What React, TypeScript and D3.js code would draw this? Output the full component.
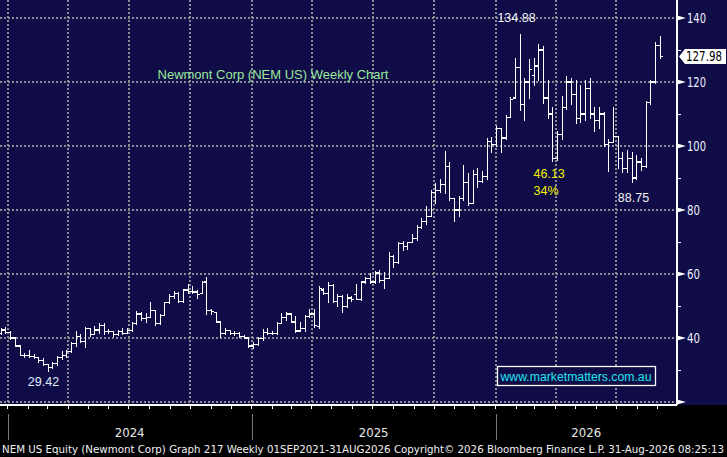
import React from "react";
import * as d3 from "d3";

// weekly OHLC, NEM US, weeks ending Fri 22-Dec-2023 .. Fri 04-Sep-2026
const barOpen = [
  41.5, 42.5, 41.8, 40.0, 37.5, 34.6, 34.5, 34.3, 33.8, 33.0,
  31.6, 30.8, 32.0, 33.8, 34.5, 35.8, 38.2, 40.5, 38.8, 43.0,
  41.0, 42.5, 44.0, 42.0, 42.0, 41.0, 42.0, 41.5, 42.3, 44.5,
  47.5, 46.0, 46.5, 48.5, 44.5, 47.0, 51.0, 53.0, 54.0, 51.5,
  55.0, 54.6, 54.4, 54.0, 57.5, 48.5, 48.0, 45.0, 41.5, 42.4,
  41.4, 41.5, 40.5, 40.0, 37.5, 38.0, 39.8, 41.8, 41.5, 41.3,
  44.5, 46.3, 47.5, 45.0, 42.2, 43.0, 46.8, 47.5, 43.5, 55.0,
  54.0, 56.5, 51.5, 53.0, 49.8, 52.5, 53.5, 52.0, 57.5, 58.5,
  57.5, 60.3, 58.0, 58.6, 65.5, 63.5, 69.5, 68.5, 69.8, 71.0,
  74.5, 76.5, 78.0, 85.5, 86.0, 88.0, 93.5, 83.5, 80.0, 83.5,
  88.5, 82.0, 91.0, 89.0, 90.5, 101.5, 100.5, 105.5, 102.5, 109.0,
  115.0, 124.5, 113.0, 120.0, 122.0, 125.0, 130.0, 115.0, 110.0, 96.0,
  103.5, 112.0, 120.0, 116.0, 108.5, 110.0, 118.0, 110.0, 108.0, 110.0,
  100.5, 101.0, 103.0, 96.0, 93.0, 96.0, 90.0, 95.0, 93.5, 113.5,
  120.0, 131.5,
];
const barHigh = [
  43.0, 43.3, 42.0, 40.3, 37.6, 35.2, 36.2, 34.8, 34.0, 33.5,
  31.8, 32.5, 34.3, 35.7, 36.2, 38.6, 42.0, 41.0, 43.4, 43.0,
  43.5, 44.6, 44.6, 42.6, 42.0, 42.5, 43.0, 43.0, 44.7, 48.2,
  48.0, 47.8, 51.0, 48.6, 47.5, 51.2, 53.5, 54.5, 54.2, 55.2,
  56.6, 56.0, 55.0, 57.6, 58.9, 49.0, 48.0, 45.0, 43.0, 42.5,
  42.0, 41.7, 40.8, 40.2, 38.5, 40.2, 42.6, 43.0, 42.0, 44.7,
  47.8, 48.0, 47.6, 46.6, 44.7, 47.0, 48.8, 49.0, 56.0, 55.5,
  57.2, 56.8, 53.6, 53.2, 53.6, 53.0, 56.6, 57.8, 59.0, 60.3,
  60.8, 61.0, 60.6, 66.6, 65.8, 70.0, 70.2, 70.0, 72.2, 75.3,
  77.2, 81.0, 86.0, 88.2, 89.5, 98.4, 95.0, 83.5, 84.3, 94.0,
  91.5, 92.5, 93.0, 92.0, 102.5, 102.8, 106.0, 105.6, 109.5, 115.3,
  127.5, 134.88, 121.0, 127.0, 127.5, 131.8, 131.0, 120.6, 112.0, 104.5,
  115.4, 121.6, 121.0, 120.6, 119.0, 120.5, 121.0, 112.0, 112.0, 110.5,
  102.0, 112.0, 103.0, 98.0, 98.7, 98.0, 97.0, 96.0, 114.0, 120.5,
  132.5, 134.3,
];
const barLow = [
  41.2, 41.5, 39.6, 37.2, 34.4, 34.0, 34.0, 33.6, 32.5, 31.4,
  29.42, 30.4, 31.5, 33.4, 33.8, 35.6, 37.5, 38.5, 36.9, 40.6,
  41.0, 41.5, 41.0, 41.5, 40.5, 40.8, 41.0, 41.3, 42.0, 44.3,
  45.5, 44.8, 46.5, 44.0, 44.2, 47.0, 50.8, 52.5, 51.0, 51.0,
  54.0, 54.0, 52.5, 53.8, 47.2, 47.5, 44.7, 40.3, 41.2, 41.0,
  40.8, 40.2, 39.8, 37.0, 36.8, 37.6, 39.3, 41.0, 41.0, 41.2,
  44.5, 45.5, 44.8, 41.6, 42.0, 42.0, 46.5, 43.4, 43.0, 53.5,
  51.0, 51.0, 50.0, 48.0, 49.5, 51.5, 51.9, 51.8, 57.0, 57.0,
  57.0, 57.5, 55.6, 58.5, 62.0, 63.3, 67.5, 67.8, 69.8, 70.6,
  74.3, 75.5, 78.0, 82.0, 85.6, 85.3, 83.0, 76.5, 78.0, 83.0,
  81.5, 82.0, 87.0, 88.5, 89.4, 98.0, 100.0, 98.0, 102.0, 108.8,
  114.8, 111.0, 108.0, 115.0, 119.0, 120.6, 113.4, 108.7, 95.3, 95.6,
  102.0, 111.5, 113.0, 107.0, 107.5, 108.0, 108.7, 104.4, 105.5, 99.7,
  92.0, 101.0, 93.0, 91.6, 91.6, 88.75, 89.5, 92.5, 93.2, 113.0,
  119.5, 127.5,
];
const barClose = [
  42.5, 41.8, 40.0, 37.5, 34.6, 34.5, 34.3, 33.8, 33.0, 31.6,
  30.8, 32.0, 33.8, 34.5, 35.8, 38.2, 40.5, 39.0, 43.0, 41.0,
  42.5, 44.0, 42.0, 42.0, 41.0, 42.0, 41.5, 42.3, 44.5, 47.5,
  46.0, 46.5, 48.5, 44.5, 47.0, 51.0, 53.0, 54.0, 51.5, 55.0,
  54.6, 54.4, 53.5, 57.3, 48.5, 48.2, 45.0, 41.5, 42.4, 41.4,
  41.5, 40.5, 40.0, 37.5, 38.0, 39.8, 41.8, 41.5, 41.3, 44.5,
  46.3, 47.5, 45.0, 42.2, 43.0, 46.8, 47.5, 44.0, 55.5, 54.0,
  56.5, 51.5, 53.0, 49.8, 52.5, 52.0, 52.0, 57.5, 58.5, 57.5,
  60.3, 58.0, 58.6, 65.5, 63.5, 69.5, 68.5, 69.8, 71.0, 74.5,
  76.5, 78.0, 85.5, 86.0, 88.0, 93.5, 83.5, 80.0, 83.5, 88.5,
  82.0, 91.0, 89.0, 90.5, 101.5, 100.5, 105.5, 102.5, 109.0, 114.5,
  124.5, 113.0, 120.0, 124.0, 125.0, 130.0, 115.0, 110.0, 96.0, 103.5,
  112.0, 120.0, 116.0, 108.5, 110.0, 118.0, 110.0, 108.0, 110.0, 100.5,
  101.0, 103.0, 96.0, 93.0, 96.0, 90.0, 95.0, 93.5, 113.5, 120.0,
  131.5, 127.98,
];

const priceTicks = [40, 60, 80, 100, 120, 140];
const gridPrices = [20, 40, 60, 80, 100, 120, 140];
const minorPrices = [30, 50, 70, 90, 110, 130];
const years = ["2024", "2025", "2026"];
const lastPrice = 127.98;
const highLabel = "134.88";
const lowLabel2024 = "29.42";
const lowLabel2026 = "88.75";
const dropLabel = "46.13";
const dropPct = "34%";
const title = "Newmont Corp (NEM US) Weekly Chart";
const footer =
  "NEM US Equity (Newmont Corp) Graph 217 Weekly 01SEP2021-31AUG2026   Copyright\u00A9 2026 Bloomberg Finance L.P.   31-Aug-2026 08:25:13";
const watermark = "www.marketmatters.com.au";

const W = 727;
const H = 457;
const plotRight = 677;
const plotBottom = 405;
const NAVY = "#0f0c47";
const GRID = "#8c8c94";
const narrow = "'Liberation Sans Narrow', 'Arial Narrow', 'DejaVu Sans Condensed', sans-serif";
const arial = "Arial, 'Liberation Sans', sans-serif";

export default function App() {
  const dates = d3.timeFriday.range(new Date(2023, 11, 22), new Date(2026, 8, 5));

  const x = d3
    .scaleTime()
    .domain([new Date(2024, 0, 1), new Date(2026, 0, 1)])
    .range([7.5, 495.5]);
  const y = d3.scaleLinear().domain([20, 140]).range([402, 18]);

  const quarters = d3.timeMonth.every(3)!.range(new Date(2024, 0, 1), new Date(2026, 9, 1));
  const months = d3.timeMonth.range(new Date(2024, 0, 1), new Date(2026, 9, 1));
  const yearStarts = years.map((yr) => x(new Date(+yr, 0, 1)));
  const yearEnds = years.map((yr) => Math.min(plotRight, x(new Date(+yr + 1, 0, 1))));

  const tw = 2.3;
  const bx = (i: number) => Math.round(x(dates[i])) + 0.5;

  const iHigh = barHigh.indexOf(d3.max(barHigh)!);
  const iLow24 = barLow.indexOf(d3.min(barLow)!);
  const iLow26 = barLow.indexOf(88.75);
  const iDip = barLow.indexOf(95.3);
  const last = barClose.length - 1;
  const yLast = y(lastPrice);

  return (
    <div style={{ position: "absolute", left: 0, top: 0 }}>
      <svg width={W} height={H} style={{ display: "block" }}>
        <rect width={W} height={H} fill="#000" />
        <rect width={W} height={plotBottom} fill={NAVY} />

        {/* grid */}
        <g stroke={GRID} strokeWidth={2} strokeDasharray="2 2" shapeRendering="crispEdges">
          {gridPrices.map((p) => (
            <line key={p} x1={0} x2={plotRight} y1={y(p)} y2={y(p)} />
          ))}
          {quarters.map((q) => (
            <line key={+q} x1={x(q)} x2={x(q)} y1={0} y2={plotBottom} />
          ))}
        </g>

        {/* OHLC bars */}
        <g stroke="#fff" strokeWidth={1.2} shapeRendering="crispEdges">
          {dates.map((d, i) => {
            const cx = bx(i);
            return (
              <g key={+d}>
                <line x1={cx} x2={cx} y1={y(barHigh[i]) - 0.5} y2={y(barLow[i]) + 0.5} />
                <line x1={cx - tw} x2={cx} y1={y(barOpen[i])} y2={y(barOpen[i])} />
                <line x1={cx} x2={cx + tw} y1={y(barClose[i])} y2={y(barClose[i])} />
              </g>
            );
          })}
        </g>

        {/* annotations */}
        <text x={273} y={79} textAnchor="middle" fill="#9be89b" fontFamily={arial} fontSize={13}>
          {title}
        </text>
        <text x={bx(iHigh) - 4} y={y(barHigh[iHigh]) - 12.5} textAnchor="middle" fill="#f2f2f2" fontFamily={arial} fontSize={12.5}>
          {highLabel}
        </text>
        <text x={bx(iLow24) - 5} y={y(barLow[iLow24]) + 14} textAnchor="middle" fill="#e4ecff" fontFamily={arial} fontSize={12.5}>
          {lowLabel2024}
        </text>
        <text x={bx(iLow26) + 1} y={y(barLow[iLow26]) + 20} textAnchor="middle" fill="#f2f2f2" fontFamily={arial} fontSize={12.5}>
          {lowLabel2026}
        </text>
        <text x={bx(iDip) - 19} y={y(barLow[iDip]) + 17} fill="#f0f000" fontFamily={arial} fontSize={12.5}>
          {dropLabel}
        </text>
        <text x={bx(iDip) - 19} y={y(barLow[iDip]) + 34} fill="#f0f000" fontFamily={arial} fontSize={12.5}>
          {dropPct}
        </text>

        {/* watermark */}
        <rect x={497.5} y={366.5} width={158} height={19} fill={NAVY} stroke="#fff" strokeWidth={1.3} />
        <text x={500.5} y={381} fill="#22e4f2" fontFamily={arial} fontSize={12.5} textLength={151} lengthAdjust="spacingAndGlyphs">
          {watermark}
        </text>

        {/* right axis */}
        <line x1={plotRight} x2={plotRight} y1={0} y2={plotBottom} stroke="#fff" strokeWidth={1.3} shapeRendering="crispEdges" />
        {gridPrices.map((p) => (
          <path key={p} d={`M${plotRight},${y(p) - 2.5}L${plotRight + 9},${y(p)}L${plotRight},${y(p) + 2.5}Z`} fill="#fff" />
        ))}
        {minorPrices.map((p) => (
          <line key={p} x1={plotRight} x2={plotRight + 4} y1={y(p)} y2={y(p)} stroke="#fff" strokeWidth={1} shapeRendering="crispEdges" />
        ))}
        {priceTicks.map((p) => (
          <text key={p} x={687} y={y(p) + 5} fill="#eef0ff" fontFamily={narrow} fontSize={14} textLength={p >= 100 ? 19 : 13} lengthAdjust="spacingAndGlyphs">
            {p}
          </text>
        ))}

        {/* last price tag */}
        <path
          d={`M${plotRight + 2},${yLast}L${plotRight + 8},${yLast - 7.5}H${W - 1}V${yLast + 7.5}H${plotRight + 8}Z`}
          fill="#fff"
        />
        <text x={686} y={yLast + 5} fill="#000" fontFamily={narrow} fontSize={13.5} textLength={36} lengthAdjust="spacingAndGlyphs">
          {barClose[last].toFixed(2)}
        </text>

        {/* bottom axis */}
        <line x1={0} x2={plotRight} y1={plotBottom} y2={plotBottom} stroke="#fff" strokeWidth={1.3} shapeRendering="crispEdges" />
        {months.map((m) => (
          <line key={+m} x1={x(m)} x2={x(m)} y1={plotBottom} y2={plotBottom + 4} stroke="#fff" strokeWidth={1} shapeRendering="crispEdges" />
        ))}
        {years.map((yr, k) => (
          <g key={yr}>
            <line x1={Math.round(yearStarts[k]) + 0.5} x2={Math.round(yearStarts[k]) + 0.5} y1={414} y2={440} stroke="#7a7a7a" strokeWidth={1} />
            <text x={(yearStarts[k] + yearEnds[k]) / 2} y={437} textAnchor="middle" fill="#e8e8e8" fontFamily={narrow} fontSize={13}>
              {yr}
            </text>
          </g>
        ))}
        <text x={2} y={453} fill="#f0f0f0" fontFamily={narrow} fontSize={11} textLength={722} lengthAdjust="spacingAndGlyphs">
          {footer}
        </text>
      </svg>
    </div>
  );
}
